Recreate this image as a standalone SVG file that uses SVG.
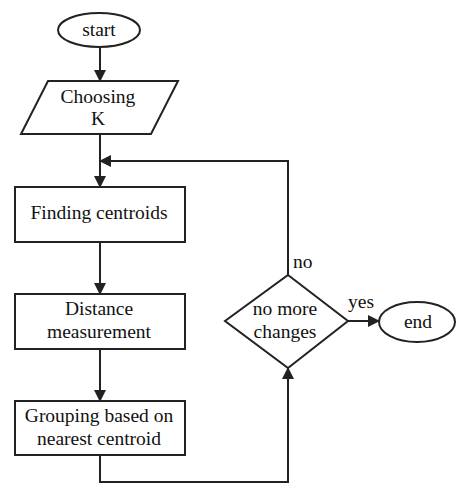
<svg xmlns="http://www.w3.org/2000/svg" width="456" height="484" viewBox="0 0 456 484">
<style>
.s{fill:#fff;stroke:#222;stroke-width:2}
.c{fill:none;stroke:#222;stroke-width:2}
text{font-family:'Liberation Serif','DejaVu Serif',serif;font-size:19.5px;fill:#111;text-anchor:middle}
.l{text-anchor:start}
</style>
<defs>
<marker id="a" markerWidth="12" markerHeight="12" refX="11" refY="6" orient="auto" markerUnits="userSpaceOnUse">
<path d="M0,0 L12,6 L0,12 Z" fill="#222"/>
</marker>
</defs>
<g id="connectors">
<line class="c" x1="100" y1="47" x2="100" y2="81" marker-end="url(#a)"/>
<line class="c" x1="100" y1="134" x2="100" y2="187" marker-end="url(#a)"/>
<polyline class="c" points="288,275 288,161 100,161" marker-end="url(#a)"/>
<line class="c" x1="100" y1="242" x2="100" y2="294" marker-end="url(#a)"/>
<line class="c" x1="100" y1="349" x2="100" y2="401" marker-end="url(#a)"/>
<polyline class="c" points="100,455 100,482 288,482 288,368" marker-end="url(#a)"/>
<line class="c" x1="348" y1="321" x2="379" y2="321" marker-end="url(#a)"/>
<text class="l" x="293" y="268">no</text>
<text class="l" x="348" y="308">yes</text>
</g>
<g id="start">
<ellipse class="s" cx="99" cy="30" rx="41" ry="17"/>
<text x="99" y="36">start</text>
</g>
<g id="choosing">
<polygon class="s" points="48,81 178,81 151,134 21,134"/>
<text x="98" y="103">Choosing</text>
<text x="98" y="125">K</text>
</g>
<g id="finding">
<rect class="s" x="15" y="187" width="170" height="55"/>
<text x="99" y="219">Finding centroids</text>
</g>
<g id="distance">
<rect class="s" x="15" y="294" width="170" height="55"/>
<text x="99" y="315">Distance</text>
<text x="99" y="338">measurement</text>
</g>
<g id="grouping">
<rect class="s" x="15" y="401" width="170" height="54"/>
<text x="99" y="422">Grouping based on</text>
<text x="99" y="445">nearest centroid</text>
</g>
<g id="decision">
<polygon class="s" points="288,275 348,321 288,368 225,321"/>
<text x="285" y="315">no more</text>
<text x="285" y="338">changes</text>
</g>
<g id="end">
<ellipse class="s" cx="417" cy="322" rx="38" ry="20"/>
<text x="418" y="328">end</text>
</g>
</svg>
